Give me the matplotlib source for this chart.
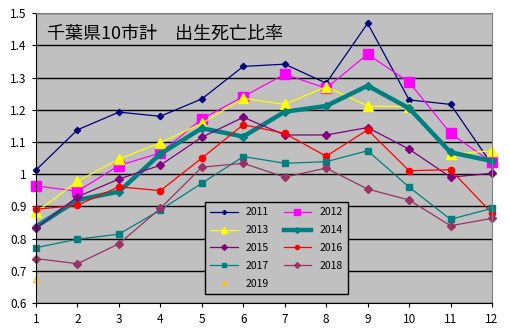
import matplotlib
matplotlib.use("Agg")
import matplotlib.pyplot as plt

plt.rcParams['font.family'] = ['Noto Sans CJK JP', 'DejaVu Sans']

months = [1, 2, 3, 4, 5, 6, 7, 8, 9, 10, 11, 12]

y2011 = [1.013, 1.138, 1.193, 1.180, 1.234, 1.335, 1.342, 1.283, 1.469, 1.231, 1.217, 1.030]
y2012 = [0.964, 0.947, 1.027, 1.066, 1.172, 1.241, 1.311, 1.267, 1.373, 1.286, 1.127, 1.037]
y2013 = [0.882, 0.978, 1.047, 1.098, 1.158, 1.236, 1.217, 1.272, 1.212, 1.210, 1.062, 1.073]
y2014 = [0.837, 0.920, 0.946, 1.063, 1.143, 1.117, 1.194, 1.212, 1.275, 1.205, 1.068, 1.041]
y2015 = [0.832, 0.930, 0.985, 1.028, 1.115, 1.177, 1.122, 1.122, 1.145, 1.078, 0.991, 1.003]
y2016 = [0.891, 0.904, 0.961, 0.949, 1.050, 1.154, 1.127, 1.056, 1.138, 1.011, 1.014, 0.879]
y2017 = [0.772, 0.798, 0.814, 0.889, 0.972, 1.055, 1.034, 1.039, 1.073, 0.960, 0.860, 0.894]
y2018 = [0.738, 0.722, 0.784, 0.894, 1.022, 1.034, 0.991, 1.019, 0.954, 0.920, 0.840, 0.863]
y2019 = [0.675]

title = "千葉県10市計\u3000出生死亡比率"
yticks = [0.6, 0.7, 0.8, 0.9, 1.0, 1.1, 1.2, 1.3, 1.4, 1.5]
ytick_labels = ["0.6", "0.7", "0.8", "0.9", "1", "1.1", "1.2", "1.3", "1.4", "1.5"]

W, H = 510, 329
fig = plt.figure(figsize=(W / 100, H / 100), dpi=100)
fig.patch.set_facecolor("white")
ax = fig.add_axes([36 / W, (H - 303) / H, (492 - 36) / W, (303 - 13.3) / H])
ax.set_facecolor("#C0C0C0")

series = [
    ("2011", months, y2011, dict(color="#000080", lw=0.9, marker="D", ms=3.2)),
    ("2012", months, y2012, dict(color="#FF00FF", lw=0.9, marker="s", ms=6.5)),
    ("2013", months, y2013, dict(color="#FFFF00", lw=0.9, marker="^", ms=6.5)),
    ("2014", months, y2014, dict(color="#008080", lw=3.2, marker="D", ms=4.5)),
    ("2015", months, y2015, dict(color="#800080", lw=0.9, marker="D", ms=4.5)),
    ("2016", months, y2016, dict(color="#FF0000", lw=0.9, marker="o", ms=4.5)),
    ("2017", months, y2017, dict(color="#008080", lw=0.9, marker="s", ms=5)),
    ("2018", months, y2018, dict(color="#993366", lw=0.9, marker="D", ms=4.5)),
]
for name, xs, ys, st in series:
    ax.plot(xs, ys, label=name, clip_on=False, **st)
ax.plot(months[:len(y2019)], y2019, label="2019", linestyle="none", marker="^",
        ms=5, mfc="none", mec="#FFC000", mew=0.9, clip_on=False)

ax.set_xlim(1, 12)
ax.set_ylim(0.6, 1.5)
ax.set_xticks(months)
ax.set_xticklabels([str(m) for m in months])
ax.set_yticks(yticks)
ax.set_yticklabels(ytick_labels)
ax.yaxis.grid(True, color="black", lw=1.0)
ax.set_axisbelow(True)
ax.tick_params(axis="both", labelsize=8.5, length=3, color="black", pad=4)
for s in ("left", "bottom"):
    ax.spines[s].set_color("black")
for s in ("top", "right"):
    ax.spines[s].set_color("#808080")

ax.text(0.024, 0.96, title, transform=ax.transAxes, fontsize=13, va="top", ha="left")

# reorder so the legend reads across rows in two columns
handles, labels = ax.get_legend_handles_labels()
order = [0, 2, 4, 6, 8, 1, 3, 5, 7]
leg = ax.legend([handles[i] for i in order], [labels[i] for i in order],
                ncol=2, loc="lower left",
                bbox_to_anchor=((200 - 36) / 456, (303 - 299) / 289.7,
                                (353 - 200) / 456, (299 - 202) / 289.7),
                mode="expand", fontsize=7.5, frameon=True, fancybox=False,
                edgecolor="black", facecolor="#C0C0C0", framealpha=1,
                handlelength=2.6, labelspacing=0.75, borderpad=0.5,
                columnspacing=1.0, markerscale=0.65)
leg.get_frame().set_linewidth(1.0)
leg.set_zorder(5)

fig.savefig("out.png", dpi=100)
